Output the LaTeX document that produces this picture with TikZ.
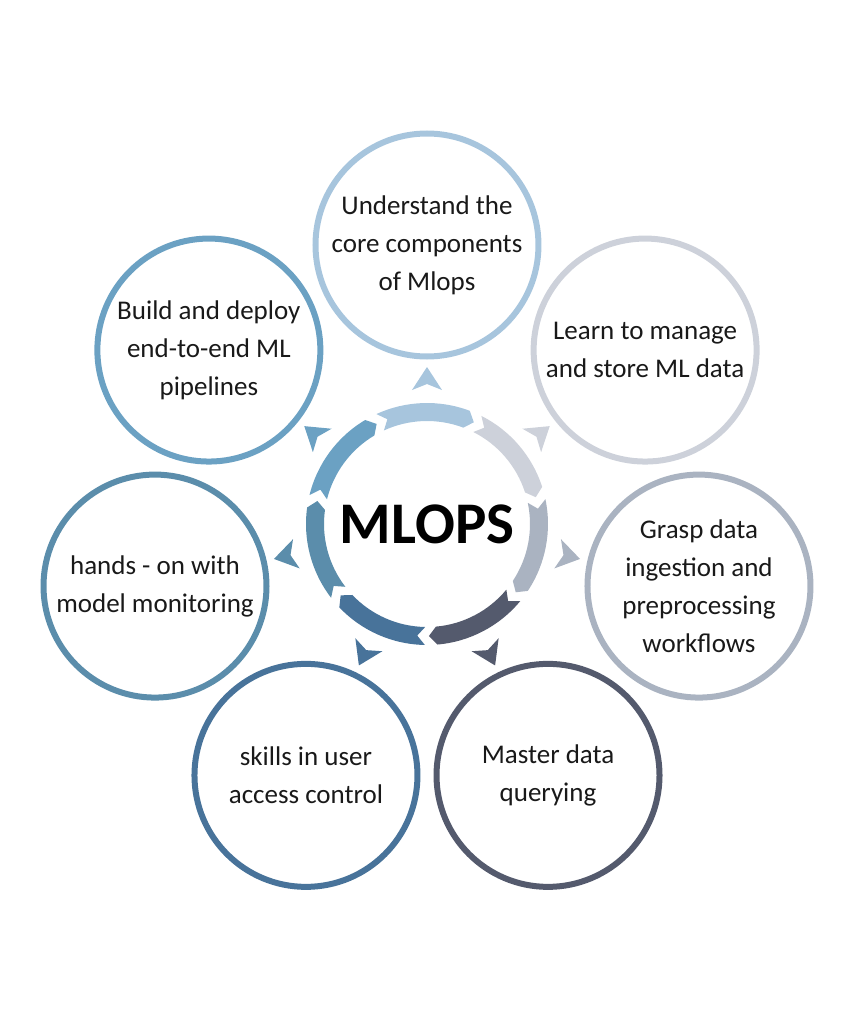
\documentclass[tikz,border=0pt]{standalone}
\usepackage{fontspec}
\setmainfont{Carlito}
\definecolor{understand}{HTML}{A7C5DD}
\definecolor{learn}{HTML}{CDD1DA}
\definecolor{grasp}{HTML}{AAB3C1}
\definecolor{master}{HTML}{545A6D}
\definecolor{skills}{HTML}{48739A}
\definecolor{handson}{HTML}{5B8DAB}
\definecolor{build}{HTML}{6BA1C3}
\begin{document}
\begin{tikzpicture}[x=0.5pt,y=0.5pt,
    stage/.style={circle,draw,line width=3pt,minimum size=111.5pt,inner sep=0pt,
        align=center,text=black!90,font=\fontsize{13.5}{19}\selectfont}]
    \useasboundingbox (-427,-500) rectangle (426,524);
    \node[stage,draw=understand] (U) at (90:279) {Understand the\\core components\\of Mlops};
    \node[stage,draw=learn] (L) at (38.57:279) {Learn to manage\\and store ML data};
    \node[stage,draw=grasp] (G) at (-12.86:279) {Grasp data\\ingestion and\\preprocessing\\workflows};
    \node[stage,draw=master] (M) at (-64.29:279) {Master data\\querying};
    \node[stage,draw=skills] (S) at (-115.71:279) {skills in user\\access control};
    \node[stage,draw=handson] (H) at (-167.14:279) {hands - on with\\model monitoring};
    \node[stage,draw=build] (B) at (141.43:279) {Build and deploy\\end-to-end ML\\pipelines};
    \node[font=\bfseries\fontsize{29.5}{34}\selectfont] (core) at (0,0) {MLOPS};
    \foreach \i/\c in {0/understand,1/learn,2/grasp,3/master,4/skills,5/handson,6/build}{
        \pgfmathsetmacro\t{90-\i*360/7}
        \pgfmathsetmacro\ta{\t+25.714-1}
        \pgfmathsetmacro\tb{\t-25.714+1}
        \fill[\c] (\ta:121) arc[start angle=\ta,end angle=\tb+4,radius=121]
            -- (\tb:112) -- (\tb+4:103) arc[start angle=\tb+4,end angle=\ta,radius=103]
            -- (\ta-4:112) -- cycle;
        \fill[\c,rotate=\t] (157,0) -- (134,15) -- (140,0) -- (134,-15) -- cycle;
    }
\end{tikzpicture}
\end{document}
